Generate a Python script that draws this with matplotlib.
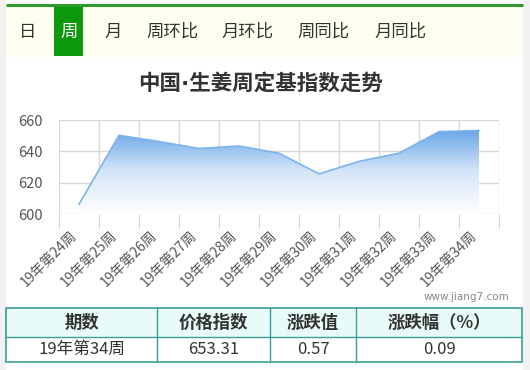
import numpy as np
import matplotlib
matplotlib.use('Agg')
import matplotlib.pyplot as plt
from matplotlib.patches import Rectangle, Polygon
from matplotlib.colors import LinearSegmentedColormap

plt.rcParams['font.family'] = ['Noto Sans CJK SC', 'DejaVu Sans']

# data
weeks = ['19年第24周', '19年第25周', '19年第26周', '19年第27周', '19年第28周',
         '19年第29周', '19年第30周', '19年第31周', '19年第32周', '19年第33周',
         '19年第34周']
index_vals = [606.2, 650.2, 646.3, 641.8, 643.4, 638.8, 625.6, 633.6, 638.8,
              652.6, 653.31]
tabs = ['日', '周', '月', '周环比', '月环比', '周同比', '月同比']
active_tab = '周'
title = '中国·生姜周定基指数走势'
table_head = ['期数', '价格指数', '涨跌值', '涨跌幅（%）']
table_row = ['19年第34周', '653.31', '0.57', '0.09']

W, H = 530, 370
fig = plt.figure(figsize=(W / 100, H / 100), dpi=100)
fig.patch.set_facecolor('#f2f2f2')

# background layer in pixel coordinates
ov = fig.add_axes([0, 0, 1, 1], zorder=0)
ov.set_xlim(0, W)
ov.set_ylim(H, 0)
ov.axis('off')

ov.add_patch(Rectangle((6, 0), 517, H, facecolor='white', edgecolor='none'))
ov.add_patch(Rectangle((6, 6), 517, 51, facecolor='#fffff0', edgecolor='none'))
ov.plot([6, 523], [5, 5], color='#2e9a2e', lw=2.2, solid_capstyle='butt')

tab_x = [28, 69, 113, 172, 248, 323, 401]
for name, tx in zip(tabs, tab_x):
    col = '#333333'
    if name == active_tab:
        ov.add_patch(Rectangle((54, 6), 29, 50, facecolor='#0b990b',
                               edgecolor='none'))
        col = 'white'
    ov.text(tx, 32, name, ha='center', va='center', fontsize=12.5, color=col)

# narrow middle dot comes from DejaVu, the rest falls back to Noto CJK
ov.text(260, 83, title, ha='center', va='center', fontsize=15.5,
        fontweight='bold', color='#333333',
        family=['DejaVu Sans', 'Noto Sans CJK SC'])

ov.text(509, 297, 'www.jiang7.com', ha='right', va='center', fontsize=7.5,
        color='#888888', family='DejaVu Sans')

# table
edge = '#3a9e9a'
col_edges = [6, 157, 270, 356, 522]
ov.add_patch(Rectangle((6, 308), 516, 29, facecolor='#e8fbf8',
                       edgecolor='none'))
ov.add_patch(Rectangle((6, 308), 516, 54, facecolor='none', edgecolor=edge,
                       lw=1.2))
ov.plot([6, 522], [337, 337], color=edge, lw=1.0)
for cx in col_edges[1:-1]:
    ov.plot([cx, cx], [308, 362], color=edge, lw=1.0)
for i in range(4):
    cx = (col_edges[i] + col_edges[i + 1]) / 2
    ov.text(cx, 322.5, table_head[i], ha='center', va='center', fontsize=12.5,
            fontweight='bold', color='#333333')
    ov.text(cx, 349.5, table_row[i], ha='center', va='center', fontsize=12,
            color='#333333')

# chart
ax = fig.add_axes([59 / W, 156 / H, 440 / W, 94 / H], zorder=1)
ax.set_facecolor('none')
x = np.arange(len(weeks))
ax.set_xlim(-0.5, len(weeks) - 0.5)
ax.set_ylim(600, 660)

# gradient area under the line
poly = Polygon(list(zip(x, index_vals)) + [(x[-1], 600), (x[0], 600)],
               closed=True, facecolor='none', edgecolor='none')
ax.add_patch(poly)
cmap = LinearSegmentedColormap.from_list('g', ['#ffffff', '#d6e6f8', '#68a4e7'])
grad = np.linspace(0, 1, 256).reshape(-1, 1)
im = ax.imshow(grad, cmap=cmap, origin='lower', aspect='auto',
               extent=[-0.5, len(weeks) - 0.5, 600, 654], zorder=2)
im.set_clip_path(poly)
ax.plot(x, index_vals, color='#7cb5ec', lw=1.2, zorder=3)

ax.set_yticks([600, 620, 640, 660])
ax.set_xticks(np.arange(-0.5, len(weeks), 1))
ax.set_xticklabels([])
ax.set_xticks(x, minor=True)
ax.set_xticklabels(weeks, minor=True, rotation=45, ha='right', va='top')
ax.grid(True, color='#d8d8d8', lw=1, zorder=1)
ax.set_axisbelow(True)
ax.tick_params(axis='x', which='major', length=10, color='#d8d8d8')
ax.tick_params(axis='x', which='minor', length=0, pad=10, labelsize=10,
               labelcolor='#555555')
ax.tick_params(axis='y', length=0, pad=12, labelsize=10.5,
               labelcolor='#555555')
for s in ax.spines.values():
    s.set_visible(False)

fig.savefig('out.png', dpi=100)
